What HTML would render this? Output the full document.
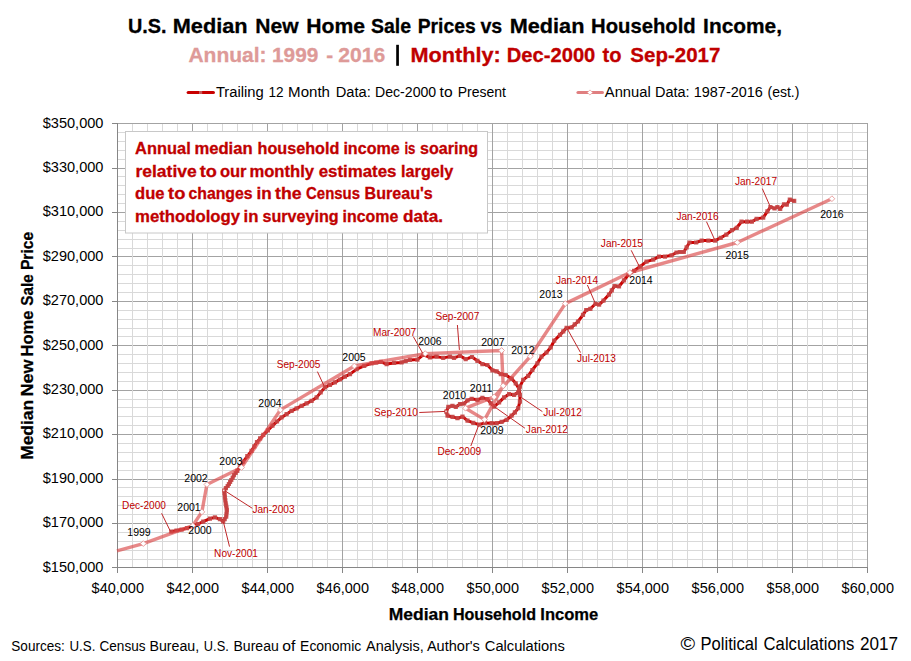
<!DOCTYPE html><html><head><meta charset="utf-8"><title>chart</title>
<style>html,body{margin:0;padding:0;background:#fff}svg{display:block}text{font-family:"Liberation Sans",sans-serif}</style></head><body>
<svg width="911" height="661" viewBox="0 0 911 661">
<rect x="0" y="0" width="911" height="661" fill="#fff"/>
<path d="M117.5 132.5H867.5M117.5 141.5H867.5M117.5 150.5H867.5M117.5 159.5H867.5M117.5 176.5H867.5M117.5 185.5H867.5M117.5 194.5H867.5M117.5 203.5H867.5M117.5 221.5H867.5M117.5 230.5H867.5M117.5 239.5H867.5M117.5 248.5H867.5M117.5 265.5H867.5M117.5 274.5H867.5M117.5 283.5H867.5M117.5 292.5H867.5M117.5 310.5H867.5M117.5 319.5H867.5M117.5 328.5H867.5M117.5 336.5H867.5M117.5 354.5H867.5M117.5 363.5H867.5M117.5 372.5H867.5M117.5 381.5H867.5M117.5 399.5H867.5M117.5 407.5H867.5M117.5 416.5H867.5M117.5 425.5H867.5M117.5 443.5H867.5M117.5 452.5H867.5M117.5 461.5H867.5M117.5 470.5H867.5M117.5 487.5H867.5M117.5 496.5H867.5M117.5 505.5H867.5M117.5 514.5H867.5M117.5 532.5H867.5M117.5 541.5H867.5M117.5 550.5H867.5M117.5 559.5H867.5" stroke="#d9d9d9" stroke-width="1" fill="none" shape-rendering="crispEdges"/>
<path d="M117.5 123.5H867.5M117.5 168.5H867.5M117.5 212.5H867.5M117.5 256.5H867.5M117.5 301.5H867.5M117.5 345.5H867.5M117.5 390.5H867.5M117.5 434.5H867.5M117.5 479.5H867.5M117.5 523.5H867.5M117.5 567.5H867.5" stroke="#a3a3a3" stroke-width="1" fill="none" shape-rendering="crispEdges"/>
<path d="M132.5 123.5V567.5M147.5 123.5V567.5M162.5 123.5V567.5M177.5 123.5V567.5M207.5 123.5V567.5M222.5 123.5V567.5M237.5 123.5V567.5M252.5 123.5V567.5M282.5 123.5V567.5M297.5 123.5V567.5M312.5 123.5V567.5M327.5 123.5V567.5M357.5 123.5V567.5M372.5 123.5V567.5M387.5 123.5V567.5M402.5 123.5V567.5M432.5 123.5V567.5M447.5 123.5V567.5M462.5 123.5V567.5M477.5 123.5V567.5M507.5 123.5V567.5M522.5 123.5V567.5M537.5 123.5V567.5M552.5 123.5V567.5M582.5 123.5V567.5M597.5 123.5V567.5M612.5 123.5V567.5M627.5 123.5V567.5M657.5 123.5V567.5M672.5 123.5V567.5M687.5 123.5V567.5M702.5 123.5V567.5M732.5 123.5V567.5M747.5 123.5V567.5M762.5 123.5V567.5M777.5 123.5V567.5M807.5 123.5V567.5M822.5 123.5V567.5M837.5 123.5V567.5M852.5 123.5V567.5" stroke="#d9d9d9" stroke-width="1" fill="none" shape-rendering="crispEdges"/>
<path d="M117.5 123.5V567.5M192.5 123.5V567.5M267.5 123.5V567.5M342.5 123.5V567.5M417.5 123.5V567.5M492.5 123.5V567.5M567.5 123.5V567.5M642.5 123.5V567.5M717.5 123.5V567.5M792.5 123.5V567.5M867.5 123.5V567.5" stroke="#a3a3a3" stroke-width="1" fill="none" shape-rendering="crispEdges"/>
<path d="M117.5 123.5V567.5M117.5 567.5H867.5M117.5 567.5v5M192.5 567.5v5M267.5 567.5v5M342.5 567.5v5M417.5 567.5v5M492.5 567.5v5M567.5 567.5v5M642.5 567.5v5M717.5 567.5v5M792.5 567.5v5M867.5 567.5v5M112.0 123.5h5.5M112.0 168.5h5.5M112.0 212.5h5.5M112.0 256.5h5.5M112.0 301.5h5.5M112.0 345.5h5.5M112.0 390.5h5.5M112.0 434.5h5.5M112.0 479.5h5.5M112.0 523.5h5.5M112.0 567.5h5.5" stroke="#868686" stroke-width="1" fill="none" shape-rendering="crispEdges"/>
<text x="103.5" y="127.6" font-size="14.4" text-anchor="end" font-weight="normal" fill="#000" textLength="60.8" lengthAdjust="spacingAndGlyphs">$350,000</text>
<text x="103.5" y="172.0" font-size="14.4" text-anchor="end" font-weight="normal" fill="#000" textLength="60.8" lengthAdjust="spacingAndGlyphs">$330,000</text>
<text x="103.5" y="216.4" font-size="14.4" text-anchor="end" font-weight="normal" fill="#000" textLength="60.8" lengthAdjust="spacingAndGlyphs">$310,000</text>
<text x="103.5" y="260.8" font-size="14.4" text-anchor="end" font-weight="normal" fill="#000" textLength="60.8" lengthAdjust="spacingAndGlyphs">$290,000</text>
<text x="103.5" y="305.2" font-size="14.4" text-anchor="end" font-weight="normal" fill="#000" textLength="60.8" lengthAdjust="spacingAndGlyphs">$270,000</text>
<text x="103.5" y="349.6" font-size="14.4" text-anchor="end" font-weight="normal" fill="#000" textLength="60.8" lengthAdjust="spacingAndGlyphs">$250,000</text>
<text x="103.5" y="394.0" font-size="14.4" text-anchor="end" font-weight="normal" fill="#000" textLength="60.8" lengthAdjust="spacingAndGlyphs">$230,000</text>
<text x="103.5" y="438.4" font-size="14.4" text-anchor="end" font-weight="normal" fill="#000" textLength="60.8" lengthAdjust="spacingAndGlyphs">$210,000</text>
<text x="103.5" y="482.8" font-size="14.4" text-anchor="end" font-weight="normal" fill="#000" textLength="60.8" lengthAdjust="spacingAndGlyphs">$190,000</text>
<text x="103.5" y="527.2" font-size="14.4" text-anchor="end" font-weight="normal" fill="#000" textLength="60.8" lengthAdjust="spacingAndGlyphs">$170,000</text>
<text x="103.5" y="571.6" font-size="14.4" text-anchor="end" font-weight="normal" fill="#000" textLength="60.8" lengthAdjust="spacingAndGlyphs">$150,000</text>
<text x="117.8" y="593" font-size="14.4" text-anchor="middle" font-weight="normal" fill="#000" textLength="52.4" lengthAdjust="spacingAndGlyphs">$40,000</text>
<text x="192.8" y="593" font-size="14.4" text-anchor="middle" font-weight="normal" fill="#000" textLength="52.4" lengthAdjust="spacingAndGlyphs">$42,000</text>
<text x="267.8" y="593" font-size="14.4" text-anchor="middle" font-weight="normal" fill="#000" textLength="52.4" lengthAdjust="spacingAndGlyphs">$44,000</text>
<text x="342.8" y="593" font-size="14.4" text-anchor="middle" font-weight="normal" fill="#000" textLength="52.4" lengthAdjust="spacingAndGlyphs">$46,000</text>
<text x="417.8" y="593" font-size="14.4" text-anchor="middle" font-weight="normal" fill="#000" textLength="52.4" lengthAdjust="spacingAndGlyphs">$48,000</text>
<text x="492.8" y="593" font-size="14.4" text-anchor="middle" font-weight="normal" fill="#000" textLength="52.4" lengthAdjust="spacingAndGlyphs">$50,000</text>
<text x="567.8" y="593" font-size="14.4" text-anchor="middle" font-weight="normal" fill="#000" textLength="52.4" lengthAdjust="spacingAndGlyphs">$52,000</text>
<text x="642.8" y="593" font-size="14.4" text-anchor="middle" font-weight="normal" fill="#000" textLength="52.4" lengthAdjust="spacingAndGlyphs">$54,000</text>
<text x="717.8" y="593" font-size="14.4" text-anchor="middle" font-weight="normal" fill="#000" textLength="52.4" lengthAdjust="spacingAndGlyphs">$56,000</text>
<text x="792.8" y="593" font-size="14.4" text-anchor="middle" font-weight="normal" fill="#000" textLength="52.4" lengthAdjust="spacingAndGlyphs">$58,000</text>
<text x="867.8" y="593" font-size="14.4" text-anchor="middle" font-weight="normal" fill="#000" textLength="52.4" lengthAdjust="spacingAndGlyphs">$60,000</text>
<text y="32.7" font-size="21" font-weight="bold" fill="#000" stroke="#000" stroke-width="0.3"><tspan x="128.0" textLength="38.6" lengthAdjust="spacingAndGlyphs">U.S.</tspan><tspan x="172.7" textLength="74.9" lengthAdjust="spacingAndGlyphs">Median</tspan><tspan x="255.3" textLength="43.3" lengthAdjust="spacingAndGlyphs">New</tspan><tspan x="306.3" textLength="58.8" lengthAdjust="spacingAndGlyphs">Home</tspan><tspan x="371.0" textLength="40.1" lengthAdjust="spacingAndGlyphs">Sale</tspan><tspan x="417.7" textLength="58.0" lengthAdjust="spacingAndGlyphs">Prices</tspan><tspan x="480.4" textLength="21.8" lengthAdjust="spacingAndGlyphs">vs</tspan><tspan x="509.7" textLength="74.7" lengthAdjust="spacingAndGlyphs">Median</tspan><tspan x="591.1" textLength="104.6" lengthAdjust="spacingAndGlyphs">Household</tspan><tspan x="703.1" textLength="78.9" lengthAdjust="spacingAndGlyphs">Income,</tspan></text>
<text y="61.5" font-size="21" font-weight="bold" fill="#de9a98" stroke="#de9a98" stroke-width="0.3"><tspan x="188.4" textLength="78.2" lengthAdjust="spacingAndGlyphs">Annual:</tspan><tspan x="272.0" textLength="46.3" lengthAdjust="spacingAndGlyphs">1999</tspan><tspan x="326.3" textLength="6.9" lengthAdjust="spacingAndGlyphs">-</tspan><tspan x="338.3" textLength="47.0" lengthAdjust="spacingAndGlyphs">2016</tspan></text>
<rect x="396.2" y="44.8" width="2.7" height="21" fill="#000"/>
<text y="61.5" font-size="21" font-weight="bold" fill="#c00000" stroke="#c00000" stroke-width="0.3"><tspan x="410.4" textLength="90.3" lengthAdjust="spacingAndGlyphs">Monthly:</tspan><tspan x="506.8" textLength="88.5" lengthAdjust="spacingAndGlyphs">Dec-2000</tspan><tspan x="602.6" textLength="19.0" lengthAdjust="spacingAndGlyphs">to</tspan><tspan x="630.3" textLength="90.1" lengthAdjust="spacingAndGlyphs">Sep-2017</tspan></text>
<path d="M188.2 92.5H213.4" stroke="#c80000" stroke-width="3.2" stroke-linecap="round"/>
<rect x="199" y="91" width="3.2" height="3" fill="#c85a5a"/>
<text y="96.6" font-size="14" font-weight="normal" fill="#000"><tspan x="215.9" textLength="47.9" lengthAdjust="spacingAndGlyphs">Trailing</tspan><tspan x="268.5" textLength="15.1" lengthAdjust="spacingAndGlyphs">12</tspan><tspan x="288.1" textLength="41.9" lengthAdjust="spacingAndGlyphs">Month</tspan><tspan x="335.7" textLength="35.1" lengthAdjust="spacingAndGlyphs">Data:</tspan><tspan x="375.0" textLength="61.2" lengthAdjust="spacingAndGlyphs">Dec-2000</tspan><tspan x="439.6" textLength="13.0" lengthAdjust="spacingAndGlyphs">to</tspan><tspan x="457.7" textLength="48.3" lengthAdjust="spacingAndGlyphs">Present</tspan></text>
<path d="M578 92.5H602.4" stroke="#e07f80" stroke-width="3.2" stroke-linecap="round"/>
<path d="M590 89.9l2.6 2.6l-2.6 2.6l-2.6-2.6z" fill="#fff" stroke="#eaa5a5" stroke-width="0.8"/>
<text y="96.6" font-size="14" font-weight="normal" fill="#000"><tspan x="604.8" textLength="45.9" lengthAdjust="spacingAndGlyphs">Annual</tspan><tspan x="655.0" textLength="34.6" lengthAdjust="spacingAndGlyphs">Data:</tspan><tspan x="693.8" textLength="69.0" lengthAdjust="spacingAndGlyphs">1987-2016</tspan><tspan x="767.5" textLength="31.9" lengthAdjust="spacingAndGlyphs">(est.)</tspan></text>
<text y="620.2" font-size="16.4" font-weight="bold" fill="#000" stroke="#000" stroke-width="0.25"><tspan x="388.8" textLength="60.2" lengthAdjust="spacingAndGlyphs">Median</tspan><tspan x="452.9" textLength="83.1" lengthAdjust="spacingAndGlyphs">Household</tspan><tspan x="540.3" textLength="58.0" lengthAdjust="spacingAndGlyphs">Income</tspan></text>
<g transform="translate(32.8,459.5) rotate(-90)"><text y="0" font-size="16.2" font-weight="bold" fill="#000" stroke="#000" stroke-width="0.25"><tspan x="-0.3" textLength="59.9" lengthAdjust="spacingAndGlyphs">Median</tspan><tspan x="63.0" textLength="37.2" lengthAdjust="spacingAndGlyphs">New</tspan><tspan x="103.1" textLength="45.8" lengthAdjust="spacingAndGlyphs">Home</tspan><tspan x="153.8" textLength="31.4" lengthAdjust="spacingAndGlyphs">Sale</tspan><tspan x="189.4" textLength="38.4" lengthAdjust="spacingAndGlyphs">Price</tspan></text></g>
<text y="651.2" font-size="13.8" font-weight="normal" fill="#000"><tspan x="11.3" textLength="53.5" lengthAdjust="spacingAndGlyphs">Sources:</tspan><tspan x="69.5" textLength="25.9" lengthAdjust="spacingAndGlyphs">U.S.</tspan><tspan x="99.5" textLength="46.0" lengthAdjust="spacingAndGlyphs">Census</tspan><tspan x="149.5" textLength="49.7" lengthAdjust="spacingAndGlyphs">Bureau,</tspan><tspan x="203.8" textLength="25.0" lengthAdjust="spacingAndGlyphs">U.S.</tspan><tspan x="233.5" textLength="45.3" lengthAdjust="spacingAndGlyphs">Bureau</tspan><tspan x="282.3" textLength="13.1" lengthAdjust="spacingAndGlyphs">of</tspan><tspan x="300.1" textLength="61.2" lengthAdjust="spacingAndGlyphs">Economic</tspan><tspan x="366.0" textLength="57.8" lengthAdjust="spacingAndGlyphs">Analysis,</tspan><tspan x="426.9" textLength="52.9" lengthAdjust="spacingAndGlyphs">Author's</tspan><tspan x="484.8" textLength="80.0" lengthAdjust="spacingAndGlyphs">Calculations</tspan></text>
<text y="650.1" font-size="17.8" font-weight="normal" fill="#000"><tspan x="680.4" textLength="14.6" lengthAdjust="spacingAndGlyphs">©</tspan><tspan x="700.5" textLength="57.1" lengthAdjust="spacingAndGlyphs">Political</tspan><tspan x="763.6" textLength="90.7" lengthAdjust="spacingAndGlyphs">Calculations</tspan><tspan x="860.0" textLength="38.1" lengthAdjust="spacingAndGlyphs">2017</tspan></text>
<polyline points="171.3,531.6 176.5,530.5 181.6,529.6 187.0,528.2 192.7,526.2 198.0,524.0 203.2,521.6 209.9,518.6 214.9,517.4 219.9,519.1 223.2,521.6 226.2,516.6 226.9,509.9 225.7,503.3 224.9,497.4 224.2,490.5 227.7,486.0 231.3,480.0 234.0,475.2 237.3,470.8 243.2,461.7 251.5,450.8 257.0,442.0 263.3,434.9 272.5,425.7 281.6,417.4 291.6,410.8 301.6,405.8 311.6,400.8 316.6,397.4 324.9,387.4 334.9,382.4 344.9,376.6 350.0,374.1 356.7,369.1 364.2,365.8 371.6,363.3 380.8,361.9 386.6,364.1 394.1,362.9 401.6,362.4 409.9,359.9 417.4,359.6 423.2,354.9 429.9,357.4 436.6,356.6 443.2,357.9 449.9,356.6 454.0,357.9 459.9,355.8 465.7,359.1 472.0,357.0 477.4,360.8 482.4,364.1 487.4,365.0 492.4,370.3 496.6,371.3 500.8,374.1 505.7,375.0 511.6,378.6 515.7,383.3 519.1,389.1 519.9,394.9 519.9,401.6 518.2,408.2 514.9,412.4 511.6,415.7 506.6,419.9 501.6,421.9 496.6,423.2 491.6,423.2 484.9,422.9 479.1,424.6 473.3,422.9 467.5,420.7 462.5,416.6 457.5,418.2 452.5,416.9 447.5,415.7 446.3,411.6 448.3,406.9 452.5,405.8 455.8,406.9 460.0,404.1 464.1,403.6 467.5,400.3 471.6,398.8 477.4,399.9 482.4,397.9 487.4,399.1 490.8,403.3 494.1,406.6 499.1,402.4 504.1,397.4 509.1,394.1 514.1,394.9 518.2,392.4 519.9,386.6 523.2,379.9 528.2,375.8 532.4,370.0 537.4,363.3 541.5,356.6 546.5,352.5 550.7,347.5 554.2,340.7 560.0,334.9 566.6,327.9 571.6,327.4 578.0,321.5 583.0,314.8 586.2,310.0 590.4,308.8 595.5,303.8 599.1,304.6 603.5,300.6 609.0,294.6 614.6,286.0 619.0,286.5 624.0,280.3 628.6,274.6 634.1,270.8 639.9,266.6 646.5,261.6 653.2,259.6 659.0,256.6 664.9,256.6 671.5,255.3 676.5,252.5 680.0,252.0 683.8,252.0 689.5,242.5 696.1,242.5 701.7,240.6 708.4,240.6 715.0,240.6 720.7,237.8 726.3,234.6 732.0,230.2 736.7,227.8 741.5,221.7 747.1,221.7 751.9,221.7 756.6,218.9 763.2,217.6 767.4,211.3 770.4,207.0 774.6,208.5 777.4,207.0 780.2,208.9 784.0,204.3 786.8,204.7 789.8,199.6 794.2,200.8" fill="none" stroke="#cc0000" stroke-width="3" stroke-linejoin="round" stroke-linecap="round"/>
<path d="M169.2 529.5h4.2v4.2h-4.2zM174.4 528.4h4.2v4.2h-4.2zM179.5 527.5h4.2v4.2h-4.2zM184.9 526.1h4.2v4.2h-4.2zM190.6 524.1h4.2v4.2h-4.2zM195.9 521.9h4.2v4.2h-4.2zM201.1 519.5h4.2v4.2h-4.2zM207.8 516.5h4.2v4.2h-4.2zM212.8 515.3h4.2v4.2h-4.2zM217.8 517.0h4.2v4.2h-4.2zM221.1 519.5h4.2v4.2h-4.2zM222.6 517.0h4.2v4.2h-4.2zM224.1 514.5h4.2v4.2h-4.2zM224.3 512.3h4.2v4.2h-4.2zM224.6 510.0h4.2v4.2h-4.2zM224.8 507.8h4.2v4.2h-4.2zM224.4 505.6h4.2v4.2h-4.2zM224.0 503.4h4.2v4.2h-4.2zM223.6 501.2h4.2v4.2h-4.2zM223.2 498.2h4.2v4.2h-4.2zM222.8 495.3h4.2v4.2h-4.2zM222.6 493.0h4.2v4.2h-4.2zM222.3 490.7h4.2v4.2h-4.2zM222.1 488.4h4.2v4.2h-4.2zM223.8 486.1h4.2v4.2h-4.2zM225.6 483.9h4.2v4.2h-4.2zM226.8 481.9h4.2v4.2h-4.2zM228.0 479.9h4.2v4.2h-4.2zM229.2 477.9h4.2v4.2h-4.2zM230.6 475.5h4.2v4.2h-4.2zM231.9 473.1h4.2v4.2h-4.2zM233.6 470.9h4.2v4.2h-4.2zM235.2 468.7h4.2v4.2h-4.2zM238.2 464.1h4.2v4.2h-4.2zM241.1 459.6h4.2v4.2h-4.2zM245.2 454.1h4.2v4.2h-4.2zM249.4 448.7h4.2v4.2h-4.2zM252.2 444.3h4.2v4.2h-4.2zM254.9 439.9h4.2v4.2h-4.2zM258.0 436.3h4.2v4.2h-4.2zM261.2 432.8h4.2v4.2h-4.2zM265.8 428.2h4.2v4.2h-4.2zM270.4 423.6h4.2v4.2h-4.2zM274.9 419.4h4.2v4.2h-4.2zM279.5 415.3h4.2v4.2h-4.2zM284.5 412.0h4.2v4.2h-4.2zM289.5 408.7h4.2v4.2h-4.2zM294.5 406.2h4.2v4.2h-4.2zM299.5 403.7h4.2v4.2h-4.2zM304.5 401.2h4.2v4.2h-4.2zM309.5 398.7h4.2v4.2h-4.2zM314.5 395.3h4.2v4.2h-4.2zM318.6 390.3h4.2v4.2h-4.2zM322.8 385.3h4.2v4.2h-4.2zM327.8 382.8h4.2v4.2h-4.2zM332.8 380.3h4.2v4.2h-4.2zM337.8 377.4h4.2v4.2h-4.2zM342.8 374.5h4.2v4.2h-4.2zM347.9 372.0h4.2v4.2h-4.2zM354.6 367.0h4.2v4.2h-4.2zM362.1 363.7h4.2v4.2h-4.2zM369.5 361.2h4.2v4.2h-4.2zM374.1 360.5h4.2v4.2h-4.2zM378.7 359.8h4.2v4.2h-4.2zM384.5 362.0h4.2v4.2h-4.2zM392.0 360.8h4.2v4.2h-4.2zM399.5 360.3h4.2v4.2h-4.2zM403.6 359.0h4.2v4.2h-4.2zM407.8 357.8h4.2v4.2h-4.2zM415.3 357.5h4.2v4.2h-4.2zM421.1 352.8h4.2v4.2h-4.2zM427.8 355.3h4.2v4.2h-4.2zM434.5 354.5h4.2v4.2h-4.2zM441.1 355.8h4.2v4.2h-4.2zM447.8 354.5h4.2v4.2h-4.2zM451.9 355.8h4.2v4.2h-4.2zM457.8 353.7h4.2v4.2h-4.2zM463.6 357.0h4.2v4.2h-4.2zM469.9 354.9h4.2v4.2h-4.2zM475.3 358.7h4.2v4.2h-4.2zM480.3 362.0h4.2v4.2h-4.2zM485.3 362.9h4.2v4.2h-4.2zM490.3 368.2h4.2v4.2h-4.2zM494.5 369.2h4.2v4.2h-4.2zM498.7 372.0h4.2v4.2h-4.2zM503.6 372.9h4.2v4.2h-4.2zM509.5 376.5h4.2v4.2h-4.2zM513.6 381.2h4.2v4.2h-4.2zM517.0 387.0h4.2v4.2h-4.2zM517.8 392.8h4.2v4.2h-4.2zM517.8 399.5h4.2v4.2h-4.2zM516.1 406.1h4.2v4.2h-4.2zM512.8 410.3h4.2v4.2h-4.2zM509.5 413.6h4.2v4.2h-4.2zM504.5 417.8h4.2v4.2h-4.2zM499.5 419.8h4.2v4.2h-4.2zM494.5 421.1h4.2v4.2h-4.2zM489.5 421.1h4.2v4.2h-4.2zM482.8 420.8h4.2v4.2h-4.2zM477.0 422.5h4.2v4.2h-4.2zM471.2 420.8h4.2v4.2h-4.2zM465.4 418.6h4.2v4.2h-4.2zM460.4 414.5h4.2v4.2h-4.2zM455.4 416.1h4.2v4.2h-4.2zM450.4 414.8h4.2v4.2h-4.2zM445.4 413.6h4.2v4.2h-4.2zM444.2 409.5h4.2v4.2h-4.2zM446.2 404.8h4.2v4.2h-4.2zM450.4 403.7h4.2v4.2h-4.2zM453.7 404.8h4.2v4.2h-4.2zM457.9 402.0h4.2v4.2h-4.2zM462.0 401.5h4.2v4.2h-4.2zM465.4 398.2h4.2v4.2h-4.2zM469.5 396.7h4.2v4.2h-4.2zM475.3 397.8h4.2v4.2h-4.2zM480.3 395.8h4.2v4.2h-4.2zM485.3 397.0h4.2v4.2h-4.2zM488.7 401.2h4.2v4.2h-4.2zM492.0 404.5h4.2v4.2h-4.2zM497.0 400.3h4.2v4.2h-4.2zM502.0 395.3h4.2v4.2h-4.2zM507.0 392.0h4.2v4.2h-4.2zM512.0 392.8h4.2v4.2h-4.2zM516.1 390.3h4.2v4.2h-4.2zM517.8 384.5h4.2v4.2h-4.2zM521.1 377.8h4.2v4.2h-4.2zM526.1 373.7h4.2v4.2h-4.2zM530.3 367.9h4.2v4.2h-4.2zM535.3 361.2h4.2v4.2h-4.2zM539.4 354.5h4.2v4.2h-4.2zM544.4 350.4h4.2v4.2h-4.2zM548.6 345.4h4.2v4.2h-4.2zM552.1 338.6h4.2v4.2h-4.2zM557.9 332.8h4.2v4.2h-4.2zM561.2 329.3h4.2v4.2h-4.2zM564.5 325.8h4.2v4.2h-4.2zM569.5 325.3h4.2v4.2h-4.2zM572.7 322.3h4.2v4.2h-4.2zM575.9 319.4h4.2v4.2h-4.2zM580.9 312.7h4.2v4.2h-4.2zM584.1 307.9h4.2v4.2h-4.2zM588.3 306.7h4.2v4.2h-4.2zM593.4 301.7h4.2v4.2h-4.2zM597.0 302.5h4.2v4.2h-4.2zM601.4 298.5h4.2v4.2h-4.2zM606.9 292.5h4.2v4.2h-4.2zM609.7 288.2h4.2v4.2h-4.2zM612.5 283.9h4.2v4.2h-4.2zM616.9 284.4h4.2v4.2h-4.2zM621.9 278.2h4.2v4.2h-4.2zM626.5 272.5h4.2v4.2h-4.2zM632.0 268.7h4.2v4.2h-4.2zM637.8 264.5h4.2v4.2h-4.2zM644.4 259.5h4.2v4.2h-4.2zM651.1 257.5h4.2v4.2h-4.2zM656.9 254.5h4.2v4.2h-4.2zM662.8 254.5h4.2v4.2h-4.2zM669.4 253.2h4.2v4.2h-4.2zM674.4 250.4h4.2v4.2h-4.2zM677.9 249.9h4.2v4.2h-4.2zM681.7 249.9h4.2v4.2h-4.2zM684.5 245.2h4.2v4.2h-4.2zM687.4 240.4h4.2v4.2h-4.2zM694.0 240.4h4.2v4.2h-4.2zM699.6 238.5h4.2v4.2h-4.2zM706.3 238.5h4.2v4.2h-4.2zM712.9 238.5h4.2v4.2h-4.2zM718.6 235.7h4.2v4.2h-4.2zM724.2 232.5h4.2v4.2h-4.2zM729.9 228.1h4.2v4.2h-4.2zM734.6 225.7h4.2v4.2h-4.2zM739.4 219.6h4.2v4.2h-4.2zM745.0 219.6h4.2v4.2h-4.2zM749.8 219.6h4.2v4.2h-4.2zM754.5 216.8h4.2v4.2h-4.2zM761.1 215.5h4.2v4.2h-4.2zM765.3 209.2h4.2v4.2h-4.2zM768.3 204.9h4.2v4.2h-4.2zM772.5 206.4h4.2v4.2h-4.2zM775.3 204.9h4.2v4.2h-4.2zM778.1 206.8h4.2v4.2h-4.2zM781.9 202.2h4.2v4.2h-4.2zM784.7 202.6h4.2v4.2h-4.2zM787.7 197.5h4.2v4.2h-4.2zM792.1 198.7h4.2v4.2h-4.2z" fill="#c44848" fill-opacity="0.9"/>
<polyline points="117.0,550.9 143.3,543.6 192.7,525.7 201.9,511.9 206.9,484.5 241.5,467.5 280.4,409.9 354.4,366.0 425.2,353.6 501.6,350.5 503.2,385.8 484.6,419.6 465.5,408.2 494.1,396.9 530.4,356.3 565.3,303.6 629.9,272.5 737.3,242.5 831.9,198.7" fill="none" stroke="#d94545" stroke-opacity="0.64" stroke-width="3.4" stroke-linejoin="round"/>
<path d="M143.3 540.7l2.9 2.9l-2.9 2.9l-2.9-2.9z" fill="#fff" stroke="#e59a9a" stroke-width="0.9"/>
<path d="M192.7 522.8l2.9 2.9l-2.9 2.9l-2.9-2.9z" fill="#fff" stroke="#e59a9a" stroke-width="0.9"/>
<path d="M201.9 509.0l2.9 2.9l-2.9 2.9l-2.9-2.9z" fill="#fff" stroke="#e59a9a" stroke-width="0.9"/>
<path d="M206.9 481.6l2.9 2.9l-2.9 2.9l-2.9-2.9z" fill="#fff" stroke="#e59a9a" stroke-width="0.9"/>
<path d="M241.5 464.6l2.9 2.9l-2.9 2.9l-2.9-2.9z" fill="#fff" stroke="#e59a9a" stroke-width="0.9"/>
<path d="M280.4 407.0l2.9 2.9l-2.9 2.9l-2.9-2.9z" fill="#fff" stroke="#e59a9a" stroke-width="0.9"/>
<path d="M354.4 363.1l2.9 2.9l-2.9 2.9l-2.9-2.9z" fill="#fff" stroke="#e59a9a" stroke-width="0.9"/>
<path d="M425.2 350.7l2.9 2.9l-2.9 2.9l-2.9-2.9z" fill="#fff" stroke="#e59a9a" stroke-width="0.9"/>
<path d="M501.6 347.6l2.9 2.9l-2.9 2.9l-2.9-2.9z" fill="#fff" stroke="#e59a9a" stroke-width="0.9"/>
<path d="M503.2 382.9l2.9 2.9l-2.9 2.9l-2.9-2.9z" fill="#fff" stroke="#e59a9a" stroke-width="0.9"/>
<path d="M484.6 416.7l2.9 2.9l-2.9 2.9l-2.9-2.9z" fill="#fff" stroke="#e59a9a" stroke-width="0.9"/>
<path d="M465.5 405.3l2.9 2.9l-2.9 2.9l-2.9-2.9z" fill="#fff" stroke="#e59a9a" stroke-width="0.9"/>
<path d="M494.1 394.0l2.9 2.9l-2.9 2.9l-2.9-2.9z" fill="#fff" stroke="#e59a9a" stroke-width="0.9"/>
<path d="M530.4 353.4l2.9 2.9l-2.9 2.9l-2.9-2.9z" fill="#fff" stroke="#e59a9a" stroke-width="0.9"/>
<path d="M565.3 300.7l2.9 2.9l-2.9 2.9l-2.9-2.9z" fill="#fff" stroke="#e59a9a" stroke-width="0.9"/>
<path d="M629.9 269.6l2.9 2.9l-2.9 2.9l-2.9-2.9z" fill="#fff" stroke="#e59a9a" stroke-width="0.9"/>
<path d="M737.3 239.6l2.9 2.9l-2.9 2.9l-2.9-2.9z" fill="#fff" stroke="#e59a9a" stroke-width="0.9"/>
<path d="M831.9 195.8l2.9 2.9l-2.9 2.9l-2.9-2.9z" fill="#fff" stroke="#e59a9a" stroke-width="0.9"/>
<rect x="125.5" y="131.5" width="362" height="101.5" fill="#fff" stroke="#c8c8c8" stroke-width="1"/>
<text y="154.0" font-size="16.4" font-weight="bold" fill="#c00000" stroke="#c00000" stroke-width="0.3"><tspan x="135.1" textLength="55.6" lengthAdjust="spacingAndGlyphs">Annual</tspan><tspan x="194.4" textLength="58.2" lengthAdjust="spacingAndGlyphs">median</tspan><tspan x="257.5" textLength="81.9" lengthAdjust="spacingAndGlyphs">household</tspan><tspan x="343.4" textLength="56.4" lengthAdjust="spacingAndGlyphs">income</tspan><tspan x="404.4" textLength="11.0" lengthAdjust="spacingAndGlyphs">is</tspan><tspan x="420.0" textLength="58.0" lengthAdjust="spacingAndGlyphs">soaring</tspan></text>
<text y="176.8" font-size="16.4" font-weight="bold" fill="#c00000" stroke="#c00000" stroke-width="0.3"><tspan x="135.5" textLength="61.2" lengthAdjust="spacingAndGlyphs">relative</tspan><tspan x="199.7" textLength="17.1" lengthAdjust="spacingAndGlyphs">to</tspan><tspan x="219.9" textLength="26.6" lengthAdjust="spacingAndGlyphs">our</tspan><tspan x="249.4" textLength="64.7" lengthAdjust="spacingAndGlyphs">monthly</tspan><tspan x="318.7" textLength="77.8" lengthAdjust="spacingAndGlyphs">estimates</tspan><tspan x="401.1" textLength="52.2" lengthAdjust="spacingAndGlyphs">largely</tspan></text>
<text y="199.4" font-size="16.4" font-weight="bold" fill="#c00000" stroke="#c00000" stroke-width="0.3"><tspan x="135.1" textLength="29.4" lengthAdjust="spacingAndGlyphs">due</tspan><tspan x="168.1" textLength="17.3" lengthAdjust="spacingAndGlyphs">to</tspan><tspan x="188.5" textLength="64.1" lengthAdjust="spacingAndGlyphs">changes</tspan><tspan x="256.5" textLength="15.2" lengthAdjust="spacingAndGlyphs">in</tspan><tspan x="275.0" textLength="26.5" lengthAdjust="spacingAndGlyphs">the</tspan><tspan x="306.1" textLength="53.9" lengthAdjust="spacingAndGlyphs">Census</tspan><tspan x="364.6" textLength="68.1" lengthAdjust="spacingAndGlyphs">Bureau's</tspan></text>
<text y="222.1" font-size="16.4" font-weight="bold" fill="#c00000" stroke="#c00000" stroke-width="0.3"><tspan x="135.1" textLength="105.0" lengthAdjust="spacingAndGlyphs">methodology</tspan><tspan x="243.5" textLength="14.9" lengthAdjust="spacingAndGlyphs">in</tspan><tspan x="262.5" textLength="76.1" lengthAdjust="spacingAndGlyphs">surveying</tspan><tspan x="342.6" textLength="55.8" lengthAdjust="spacingAndGlyphs">income</tspan><tspan x="403.0" textLength="40.1" lengthAdjust="spacingAndGlyphs">data.</tspan></text>
<text x="139" y="535.6" font-size="10.5" text-anchor="middle" font-weight="normal" fill="#000">1999</text>
<text x="200" y="534.3" font-size="10.5" text-anchor="middle" font-weight="normal" fill="#000">2000</text>
<text x="189" y="511.4" font-size="10.5" text-anchor="middle" font-weight="normal" fill="#000">2001</text>
<text x="196" y="482.2" font-size="10.5" text-anchor="middle" font-weight="normal" fill="#000">2002</text>
<text x="231" y="465.3" font-size="10.5" text-anchor="middle" font-weight="normal" fill="#000">2003</text>
<text x="270" y="406.5" font-size="10.5" text-anchor="middle" font-weight="normal" fill="#000">2004</text>
<text x="354" y="361.1" font-size="10.5" text-anchor="middle" font-weight="normal" fill="#000">2005</text>
<text x="429.9" y="345.2" font-size="10.5" text-anchor="middle" font-weight="normal" fill="#000">2006</text>
<text x="492.9" y="345.6" font-size="10.5" text-anchor="middle" font-weight="normal" fill="#000">2007</text>
<text x="491.9" y="433.8" font-size="10.5" text-anchor="middle" font-weight="normal" fill="#000">2009</text>
<text x="454.5" y="399.4" font-size="10.5" text-anchor="middle" font-weight="normal" fill="#000">2010</text>
<text x="481.1" y="392.2" font-size="10.5" text-anchor="middle" font-weight="normal" fill="#000">2011</text>
<text x="522.9" y="353.6" font-size="10.5" text-anchor="middle" font-weight="normal" fill="#000">2012</text>
<text x="551" y="297.7" font-size="10.5" text-anchor="middle" font-weight="normal" fill="#000">2013</text>
<text x="641" y="283.7" font-size="10.5" text-anchor="middle" font-weight="normal" fill="#000">2014</text>
<text x="737.1" y="258.5" font-size="10.5" text-anchor="middle" font-weight="normal" fill="#000">2015</text>
<text x="831.9" y="218.0" font-size="10.5" text-anchor="middle" font-weight="normal" fill="#000">2016</text>
<path d="M161.6 513.3L170.3 531.1" stroke="#c0282a" stroke-width="1" fill="none"/>
<text x="144" y="509.4" font-size="10.1" text-anchor="middle" font-weight="normal" fill="#c00000">Dec-2000</text>
<path d="M223.5 522.4L229.5 546.6" stroke="#c0282a" stroke-width="1" fill="none"/>
<text x="236" y="556.5" font-size="10.1" text-anchor="middle" font-weight="normal" fill="#c00000">Nov-2001</text>
<path d="M224.9 490.8L252.3 508.3" stroke="#c0282a" stroke-width="1" fill="none"/>
<text x="273.5" y="513.1" font-size="10.1" text-anchor="middle" font-weight="normal" fill="#c00000">Jan-2003</text>
<path d="M317.4 371.6L324 385.8" stroke="#c0282a" stroke-width="1" fill="none"/>
<text x="298.6" y="368.2" font-size="10.1" text-anchor="middle" font-weight="normal" fill="#c00000">Sep-2005</text>
<path d="M413.3 336.6L422.9 353.6" stroke="#c0282a" stroke-width="1" fill="none"/>
<text x="394.6" y="336.1" font-size="10.1" text-anchor="middle" font-weight="normal" fill="#c00000">Mar-2007</text>
<path d="M457.4 325L459.4 349.9" stroke="#c0282a" stroke-width="1" fill="none"/>
<text x="457.4" y="320.2" font-size="10.1" text-anchor="middle" font-weight="normal" fill="#c00000">Sep-2007</text>
<path d="M419.3 412.5L445.5 411.4" stroke="#c0282a" stroke-width="1" fill="none"/>
<text x="396" y="416.1" font-size="10.1" text-anchor="middle" font-weight="normal" fill="#c00000">Sep-2010</text>
<path d="M478.4 426L470.8 446" stroke="#c0282a" stroke-width="1" fill="none"/>
<text x="459.3" y="455.1" font-size="10.1" text-anchor="middle" font-weight="normal" fill="#c00000">Dec-2009</text>
<path d="M494.6 406.9L524.9 428.2" stroke="#c0282a" stroke-width="1" fill="none"/>
<text x="546.9" y="433.2" font-size="10.1" text-anchor="middle" font-weight="normal" fill="#c00000">Jan-2012</text>
<path d="M521.2 397.4L542.4 411.6" stroke="#c0282a" stroke-width="1" fill="none"/>
<text x="562.5" y="416.0" font-size="10.1" text-anchor="middle" font-weight="normal" fill="#c00000">Jul-2012</text>
<path d="M567.4 329L580.5 352.5" stroke="#c0282a" stroke-width="1" fill="none"/>
<text x="596.4" y="362.2" font-size="10.1" text-anchor="middle" font-weight="normal" fill="#c00000">Jul-2013</text>
<path d="M587.4 285L594.9 302.4" stroke="#c0282a" stroke-width="1" fill="none"/>
<text x="577" y="283.7" font-size="10.1" text-anchor="middle" font-weight="normal" fill="#c00000">Jan-2014</text>
<path d="M631.2 250.3L639 265.8" stroke="#c0282a" stroke-width="1" fill="none"/>
<text x="621.9" y="247.3" font-size="10.1" text-anchor="middle" font-weight="normal" fill="#c00000">Jan-2015</text>
<path d="M706.5 221.7L714.4 239.1" stroke="#c0282a" stroke-width="1" fill="none"/>
<text x="697.5" y="220.4" font-size="10.1" text-anchor="middle" font-weight="normal" fill="#c00000">Jan-2016</text>
<path d="M762.3 188.6L769.8 205.7" stroke="#c0282a" stroke-width="1" fill="none"/>
<text x="756" y="185.4" font-size="10.1" text-anchor="middle" font-weight="normal" fill="#c00000">Jan-2017</text>
<rect x="222.9" y="489.6" width="1.6" height="1.6" fill="#fff" fill-opacity="0.85"/><rect x="445.2" y="410.6" width="1.6" height="1.6" fill="#fff" fill-opacity="0.85"/>
</svg></body></html>
